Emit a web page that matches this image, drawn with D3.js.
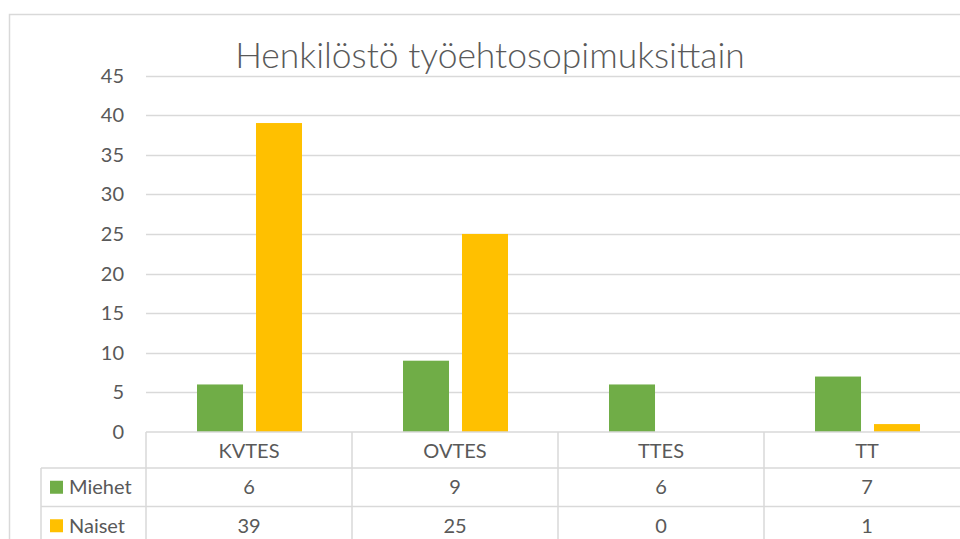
<!DOCTYPE html>
<html><head><meta charset="utf-8">
<script src="https://cdn.jsdelivr.net/npm/d3@7/dist/d3.min.js"></script>
<style>html,body{margin:0;padding:0;background:#fff;overflow:hidden}svg{display:block}</style>
</head><body>
<script>
const title = "Henkilöstö työehtosopimuksittain";
const categories = ["KVTES", "OVTES", "TTES", "TT"];
const seriesNames = ["Miehet", "Naiset"];
const miehet = [6, 9, 6, 7];
const naiset = [39, 25, 0, 1];
const yTicks = [0, 5, 10, 15, 20, 25, 30, 35, 40, 45];
const colors = ["#70AD47", "#FFC000"];

const W = 960, H = 539;
const FONT = "Lato, 'Open Sans', sans-serif";
const TXT = "#595959", GRID = "#d9d9d9";
const FS = "20px";
const svg = d3.select("body").append("svg").attr("width", W).attr("height", H);

// outer chart border
svg.append("rect").attr("x", 9.5).attr("y", 14.5).attr("width", 1000).attr("height", 600)
  .attr("fill", "#fff").attr("stroke", GRID).attr("stroke-width", 1.5);

const plotL = 146, plotR = 970, plotT = 75.5, plotB = 432;
const y = d3.scaleLinear().domain([0, 45]).range([plotB, plotT]);
const x = d3.scaleBand().domain(categories).range([plotL, plotR]);
const bw = x.bandwidth();
const xs = d3.scaleBand().domain(seriesNames).range([bw * 0.2476, bw * 0.7573]).paddingInner(0.22);

// grid
svg.append("g").selectAll("line").data(yTicks.filter(t => t > 0)).join("line")
  .attr("x1", plotL).attr("x2", plotR)
  .attr("y1", d => Math.round(y(d)) + 0.5).attr("y2", d => Math.round(y(d)) + 0.5)
  .attr("stroke", GRID).attr("stroke-width", 1.5);

// y labels
svg.append("g").selectAll("text").data(yTicks).join("text")
  .attr("x", 124).attr("y", d => y(d)).attr("dy", "0.35em")
  .attr("text-anchor", "end").attr("fill", TXT)
  .style("font-family", FONT).style("font-size", FS).text(d => d);

// bars
const data = seriesNames.map((s, i) => ({ name: s, values: i === 0 ? miehet : naiset, color: colors[i] }));
data.forEach(s => {
  svg.append("g").selectAll("rect").data(categories.map((c, j) => ({ c, v: s.values[j] }))).join("rect")
    .attr("x", d => x(d.c) + xs(s.name)).attr("width", xs.bandwidth())
    .attr("y", d => y(d.v)).attr("height", d => y(0) - y(d.v))
    .attr("fill", s.color);
});

// table
const rowH = 38.5;
const hdrT = plotB, hdrB = 468, r1B = hdrB + rowH, r2B = r1B + rowH;
const legL = 41;
const tg = svg.append("g").attr("stroke", GRID).attr("stroke-width", 1.5);
tg.append("line").attr("x1", plotL).attr("x2", plotR).attr("y1", hdrT).attr("y2", hdrT);
tg.append("line").attr("x1", legL).attr("x2", plotR).attr("y1", hdrB).attr("y2", hdrB);
tg.append("line").attr("x1", legL).attr("x2", plotR).attr("y1", r1B).attr("y2", r1B);
tg.append("line").attr("x1", legL).attr("x2", legL).attr("y1", hdrB).attr("y2", H + 10);
tg.selectAll("line.v").data(categories).join("line").attr("class", "v")
  .attr("x1", d => x(d)).attr("x2", d => x(d)).attr("y1", hdrT).attr("y2", H + 10);

// header labels
svg.append("g").selectAll("text").data(categories).join("text")
  .attr("x", d => x(d) + bw / 2).attr("y", (hdrT + hdrB) / 2 + 1).attr("dy", "0.35em")
  .attr("text-anchor", "middle").attr("fill", TXT)
  .style("font-family", FONT).style("font-size", FS).text(d => d);

// rows
const rowMid = [(hdrB + r1B) / 2, (r1B + r2B) / 2];
data.forEach((s, i) => {
  svg.append("rect").attr("x", 50).attr("y", rowMid[i] - 6.5).attr("width", 13).attr("height", 13).attr("fill", s.color);
  svg.append("text").attr("x", 69).attr("y", rowMid[i]).attr("dy", "0.35em").attr("fill", TXT)
    .style("font-family", FONT).style("font-size", FS).text(s.name);
  svg.append("g").selectAll("text").data(categories.map((c, j) => ({ c, v: s.values[j] }))).join("text")
    .attr("x", d => x(d.c) + bw / 2).attr("y", rowMid[i]).attr("dy", "0.35em")
    .attr("text-anchor", "middle").attr("fill", TXT)
    .style("font-family", FONT).style("font-size", FS).text(d => d.v);
});

// title
const t = svg.append("text").attr("x", 490).attr("y", 68).attr("text-anchor", "middle")
  .attr("fill", TXT).style("font-family", FONT).style("font-weight", 300).style("font-size", "30px").text(title);
const tw = t.node().getComputedTextLength();
t.style("font-size", (30 * 510 / tw).toFixed(2) + "px");
</script>
</body></html>
